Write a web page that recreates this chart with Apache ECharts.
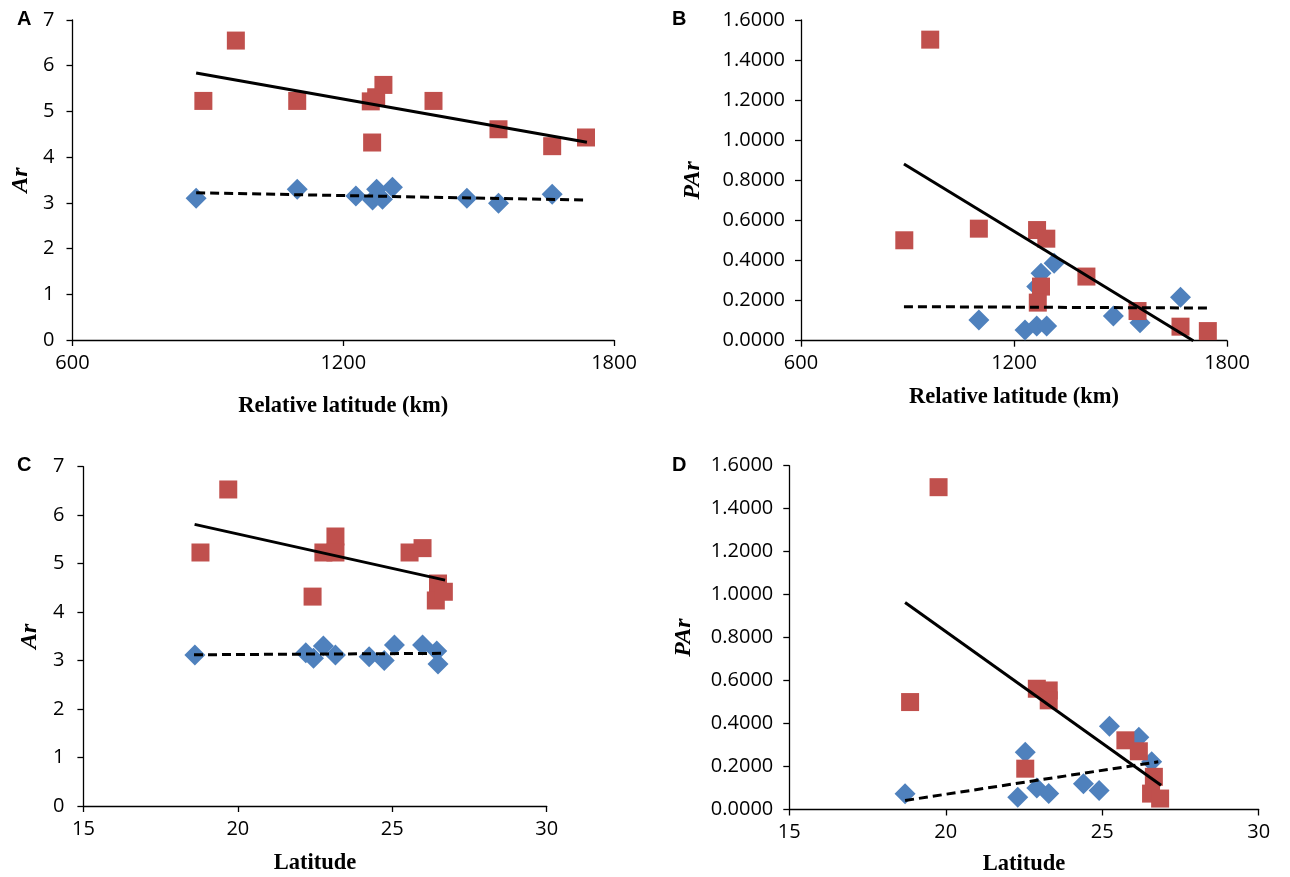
<!DOCTYPE html>
<html>
<head>
<meta charset="utf-8">
<script src="https://cdn.jsdelivr.net/npm/echarts@6/dist/echarts.min.js"></script>
<style>
html,body{margin:0;padding:0;background:#fff;}
#chart{width:1290px;height:877px;}
</style>
</head>
<body>
<div id="chart"></div>
<script>
// ---- Panel A: Ar vs relative latitude (km)
const relLatA_red = [890, 962, 1098, 1261, 1273, 1289, 1264, 1400, 1544, 1663, 1738];
const arA_red     = [5.23, 6.55, 5.23, 5.22, 5.31, 5.58, 4.32, 5.23, 4.61, 4.24, 4.43];
const relLatA_blue = [874, 1098, 1228, 1265, 1274, 1287, 1309, 1474, 1544, 1663];
const arA_blue     = [3.10, 3.30, 3.15, 3.06, 3.30, 3.08, 3.34, 3.10, 2.99, 3.19];
const trendA_solid  = [[874, 5.84], [1740, 4.325]];
const trendA_dashed = [[874, 3.22], [1741, 3.06]];

// ---- Panel B: PAr vs relative latitude (km)
const relLatB_red = [891, 964, 1101, 1265, 1291, 1276, 1267, 1404, 1548, 1669, 1746];
const parB_red    = [0.501, 1.502, 0.559, 0.552, 0.509, 0.27, 0.19, 0.32, 0.148, 0.07, 0.048];
const relLatB_blue = [1101, 1231, 1264, 1292, 1276, 1264, 1313, 1480, 1555, 1669];
const parB_blue    = [0.103, 0.053, 0.073, 0.073, 0.336, 0.27, 0.386, 0.123, 0.09, 0.217];
const trendB_solid  = [[890, 0.882], [1705, 0]];
const trendB_dashed = [[890, 0.17], [1747, 0.163]];

// ---- Panel C: Ar vs latitude
const latC_red = [19.69, 18.79, 22.42, 22.77, 23.16, 23.16, 25.56, 25.98, 26.48, 26.41, 26.67];
const arC_red  = [6.53, 5.23, 4.32, 5.23, 5.56, 5.23, 5.23, 5.32, 4.59, 4.24, 4.42];
const latC_blue = [18.61, 22.2, 22.45, 22.77, 23.16, 24.25, 24.74, 25.07, 25.98, 26.44, 26.48];
const arC_blue  = [3.115, 3.16, 3.05, 3.30, 3.115, 3.08, 3.0, 3.32, 3.32, 3.20, 2.93];
const trendC_solid  = [[18.6, 5.81], [26.71, 4.66]];
const trendC_dashed = [[18.58, 3.12], [26.69, 3.15]];

// ---- Panel D: PAr vs latitude
const latD_red = [19.77, 18.86, 22.91, 23.29, 23.29, 22.54, 25.74, 26.17, 26.65, 26.56, 26.85];
const parD_red = [1.50, 0.50, 0.562, 0.554, 0.508, 0.19, 0.322, 0.271, 0.152, 0.074, 0.051];
const latD_blue = [18.70, 22.30, 22.54, 22.91, 23.29, 24.40, 24.90, 25.23, 26.17, 26.58];
const parD_blue = [0.073, 0.057, 0.266, 0.10, 0.074, 0.12, 0.088, 0.387, 0.336, 0.222];
const trendD_solid  = [[18.70, 0.963], [26.88, 0.113]];
const trendD_dashed = [[18.70, 0.042], [26.79, 0.222]];

// ---- Axis labels
const panelLetters = ['A', 'B', 'C', 'D'];
const xTitles = ['Relative latitude (km)', 'Relative latitude (km)', 'Latitude', 'Latitude'];
const yTitles = ['Ar', 'PAr', 'Ar', 'PAr'];

const RED = '#C0504D', BLUE = '#4F81BD';
const zip = (a, b) => a.map((v, i) => [v, b[i]]);

const tickFont = {fontFamily: 'Open Sans', fontSize: 20, color: '#000'};
const axisLine = {show: true, onZero: false, lineStyle: {color: '#000', width: 1.3}};

function xAx(idx, min, max, interval, nameGap) {
  return {
    type: 'value', gridIndex: idx, min, max, interval,
    splitLine: {show: false},
    axisLine, axisTick: {show: true, length: 6, lineStyle: {color: '#000', width: 1.3}},
    axisLabel: Object.assign({margin: 13, formatter: v => String(v)}, tickFont),
    name: xTitles[idx], nameLocation: 'middle', nameGap,
    nameTextStyle: {fontFamily: 'Liberation Serif', fontWeight: 'bold', fontSize: 22.5, color: '#000'}
  };
}
function yAx(idx, min, max, interval, decimals, nameGap, margin) {
  return {
    type: 'value', gridIndex: idx, min, max, interval,
    splitLine: {show: false},
    axisLine, axisTick: {show: true, length: 6, lineStyle: {color: '#000', width: 1.3}},
    axisLabel: Object.assign({margin, formatter: v => v.toFixed(decimals)}, tickFont),
    name: yTitles[idx], nameLocation: 'middle', nameGap, nameRotate: 90,
    nameTextStyle: {fontFamily: 'Liberation Serif', fontWeight: 'bold', fontStyle: 'italic', fontSize: 24, color: '#000'}
  };
}

function scatter(idx, data, color, symbol) {
  return {type: 'scatter', xAxisIndex: idx, yAxisIndex: idx, data, symbol,
    symbolSize: symbol === 'rect' ? 18 : 21, itemStyle: {color, opacity: 1}, z: symbol === 'rect' ? 3 : 2, silent: true};
}
function trend(idx, data, dashed) {
  return {type: 'line', xAxisIndex: idx, yAxisIndex: idx, data, showSymbol: false, symbol: 'none',
    lineStyle: {color: '#000', width: 3, type: dashed ? [9, 5] : 'solid'}, z: 4, silent: true, animation: false};
}

const chart = echarts.init(document.getElementById('chart'), null, {renderer: 'canvas'});
chart.setOption({
  animation: false,
  backgroundColor: '#fff',
  grid: [
    {left: 72.5, top: 20, width: 541.5, height: 320},
    {left: 801, top: 20, width: 426, height: 320.7},
    {left: 83.4, top: 466.7, width: 463.3, height: 339.3},
    {left: 789.3, top: 465.7, width: 469.4, height: 344.3}
  ],
  xAxis: [
    xAx(0, 600, 1800, 600, 54.5),
    xAx(1, 600, 1800, 600, 44.5),
    xAx(2, 15, 30, 5, 45.5),
    xAx(3, 15, 30, 5, 43.5)
  ],
  yAxis: [
    yAx(0, 0, 7, 1, 0, 40, 18),
    yAx(1, 0, 1.6, 0.2, 4, 96, 16),
    yAx(2, 0, 7, 1, 0, 42, 19),
    yAx(3, 0, 1.6, 0.2, 4, 94, 16)
  ],
  graphic: [
    {type: 'text', left: 17, top: 9, style: {text: panelLetters[0], font: 'bold 20px "Liberation Sans"', fill: '#000'}},
    {type: 'text', left: 672, top: 9, style: {text: panelLetters[1], font: 'bold 20px "Liberation Sans"', fill: '#000'}},
    {type: 'text', left: 17, top: 455, style: {text: panelLetters[2], font: 'bold 20px "Liberation Sans"', fill: '#000'}},
    {type: 'text', left: 672, top: 455, style: {text: panelLetters[3], font: 'bold 20px "Liberation Sans"', fill: '#000'}}
  ],
  series: [
    scatter(0, zip(relLatA_blue, arA_blue), BLUE, 'diamond'),
    scatter(0, zip(relLatA_red, arA_red), RED, 'rect'),
    trend(0, trendA_solid, false),
    trend(0, trendA_dashed, true),
    scatter(1, zip(relLatB_blue, parB_blue), BLUE, 'diamond'),
    scatter(1, zip(relLatB_red, parB_red), RED, 'rect'),
    trend(1, trendB_solid, false),
    trend(1, trendB_dashed, true),
    scatter(2, zip(latC_blue, arC_blue), BLUE, 'diamond'),
    scatter(2, zip(latC_red, arC_red), RED, 'rect'),
    trend(2, trendC_solid, false),
    trend(2, trendC_dashed, true),
    scatter(3, zip(latD_blue, parD_blue), BLUE, 'diamond'),
    scatter(3, zip(latD_red, parD_red), RED, 'rect'),
    trend(3, trendD_solid, false),
    trend(3, trendD_dashed, true)
  ]
});
</script>
</body>
</html>
